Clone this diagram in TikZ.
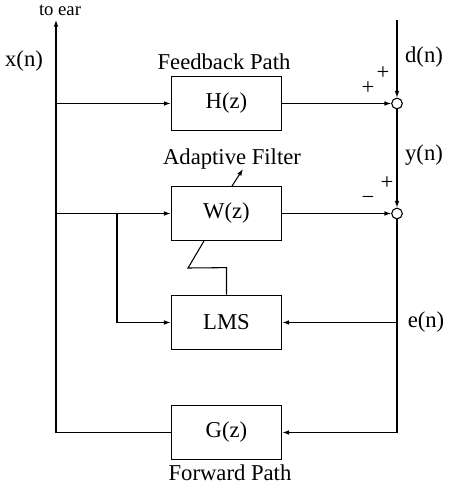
\documentclass[tikz,border=0pt]{standalone}
\usepackage{fontspec}
\setmainfont{Liberation Serif}
\usetikzlibrary{arrows.meta}

\begin{document}
\begin{tikzpicture}
  [x=0.75pt,y=-0.75pt,line width=0.8pt,
   >={Latex[length=5pt,width=3.5pt]},
   % Styles
   block/.style={draw,minimum width=83pt,minimum height=41pt,
     font=\fontsize{17}{19}\selectfont},
   sumnode/.style={draw,circle,fill=white,minimum size=8pt,inner sep=0pt},
   label text/.style={font=\fontsize{17}{19}\selectfont},
   small text/.style={font=\fontsize{14}{16}\selectfont}]

  \useasboundingbox (0,0) rectangle (449,490);

  % Blocks
  \node[block] (h)   at (226.5,103.5) {H(z)};
  \node[block] (w)   at (226.5,213.5) {W(z)};
  \node[block] (lms) at (226.5,322.5) {LMS};
  \node[block] (g)   at (226.5,432.5) {G(z)};

  % Summing junctions
  \node[sumnode] (s1) at (397,103.5) {};
  \node[sumnode] (s2) at (397,213.5) {};

  % Branch points
  \coordinate (ear) at (56,20);
  \coordinate (xh)  at (56,103.5);
  \coordinate (xw)  at (56,213.5);
  \coordinate (xl)  at (117,213.5);
  \coordinate (din) at (397,20);
  \coordinate (el)  at (397,322.5);
  \coordinate (eg)  at (397,432.5);
  \coordinate (kink) at (188,268);

  % Signal paths
  \draw[->] (g.west) -| (ear);
  \draw[->] (xh) -- (h.west);
  \draw[->] (xw) -- (w.west);
  \draw[->] (xl) |- (lms.west);
  \draw[->] (din) -- (s1.north);
  \draw[->] (h.east) -- (s1.west);
  \draw[->] (s1.south) -- (s2.north);
  \draw[->] (w.east) -- (s2.west);
  \draw[->] (s2.south) -- (eg) -- (g.east);
  \draw[->] (el) -- (lms.east);

  % Adaptation link
  \draw (lms.north) -- ++(0,-27) -- (kink) -- (204,241);
  \draw[->] (232,186) -- (243,169);

  % Labels
  \node[small text] (toear) at (60,10) {to ear};
  \node[label text] (xn) at (24,61) {x(n)};
  \node[label text] (fb) at (224,62) {Feedback Path};
  \node[label text] (af) at (232,159) {Adaptive Filter};
  \node[label text] (fw) at (230,473) {Forward Path};
  \node[label text] (dn) at (424,57) {d(n)};
  \node[label text] (yn) at (424,155) {y(n)};
  \node[label text] (en) at (426,322) {e(n)};

  % Signs
  \node[label text] (p1) at (383,73) {+};
  \node[label text] (p2) at (368,88) {+};
  \node[label text] (p3) at (387,183) {+};
  \node[label text] (m1) at (368,200) {\textminus};
\end{tikzpicture}
\end{document}
